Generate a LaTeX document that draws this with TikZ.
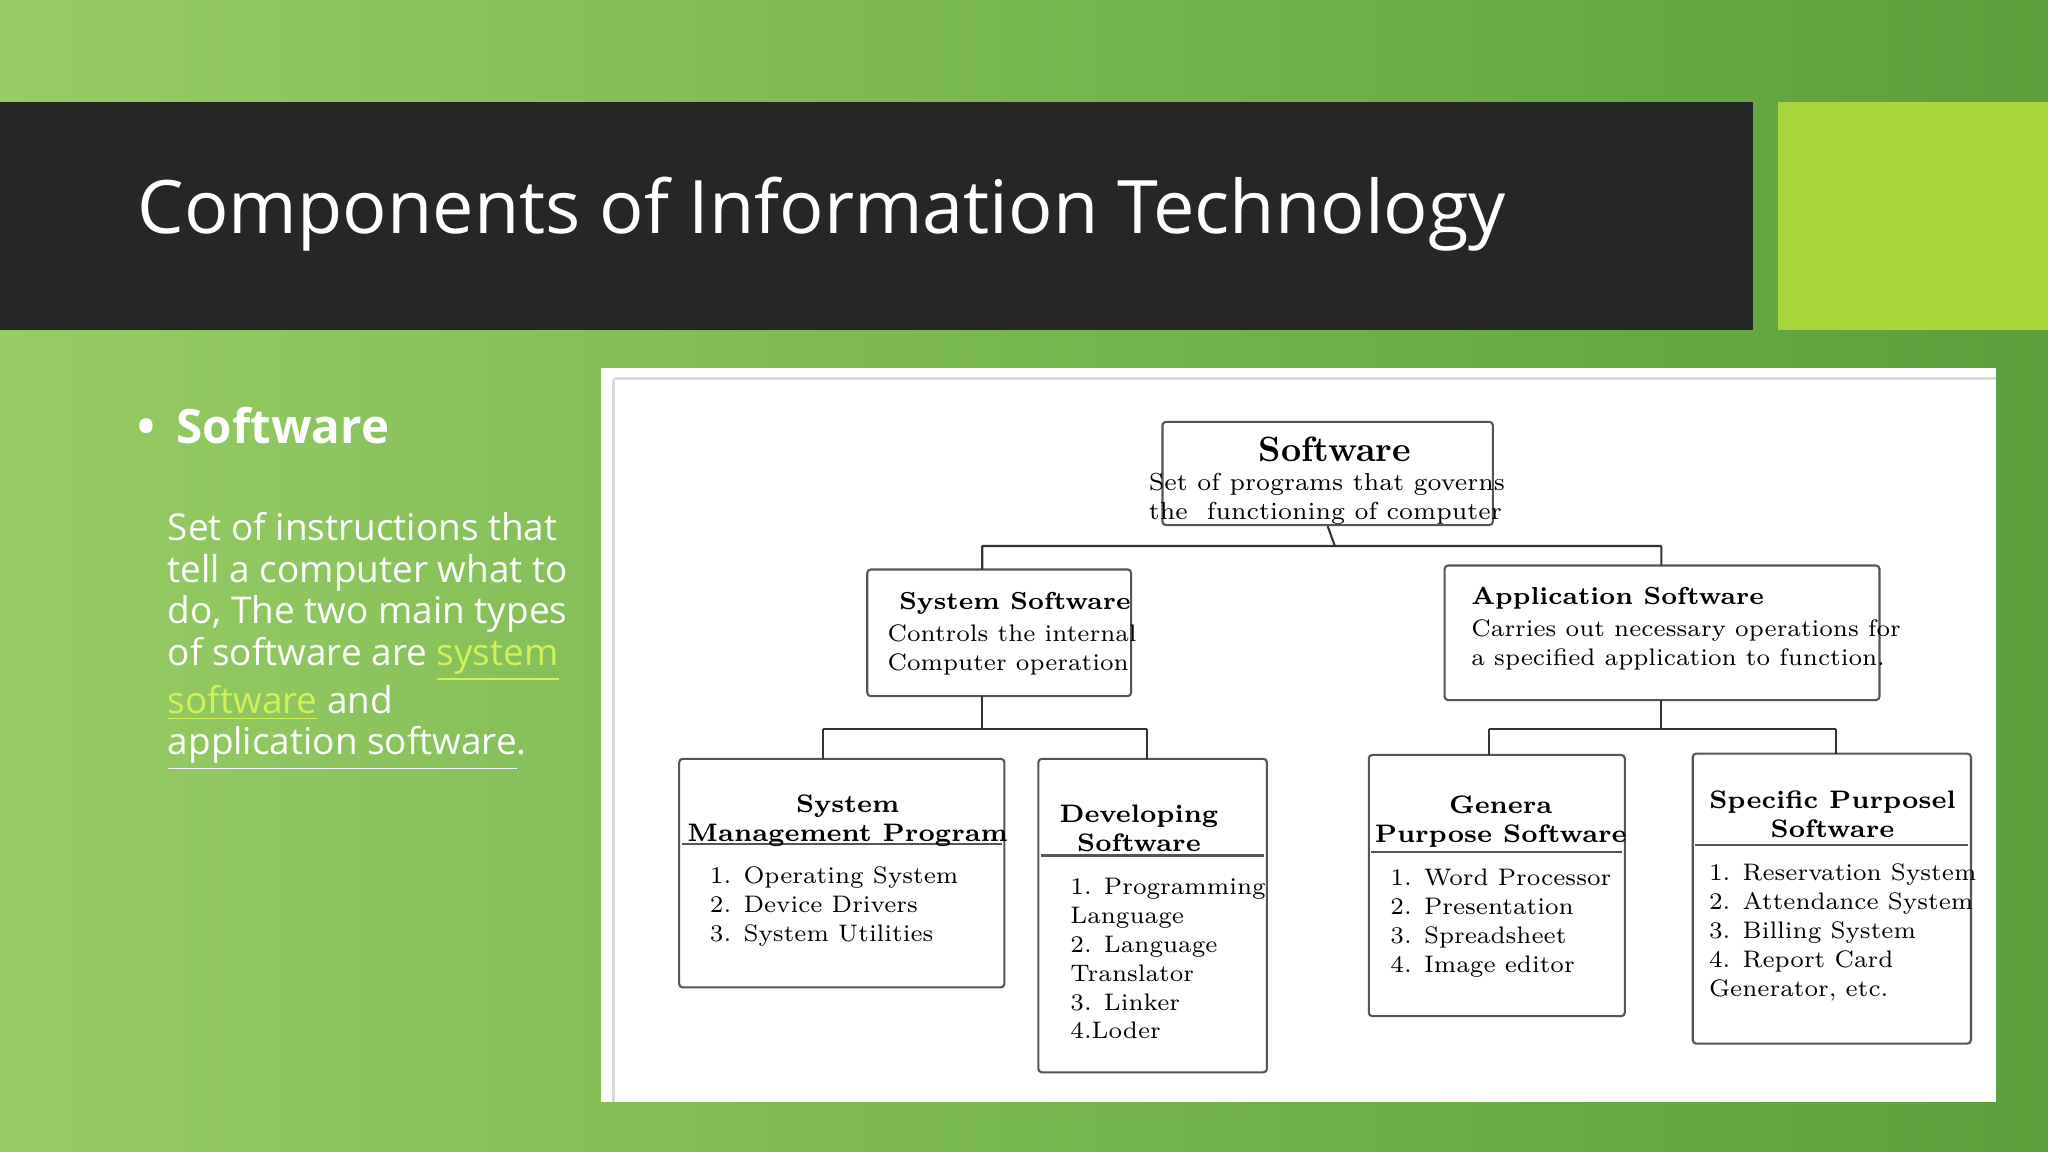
\documentclass[tikz,border=0pt]{standalone}
\usepackage{fontspec}
\setsansfont{Open Sans}
\usetikzlibrary{fit}
\definecolor{bar}{HTML}{262626}
\definecolor{lime}{HTML}{A6D63A}
\definecolor{link}{HTML}{CFF25A}
\definecolor{edge}{HTML}{555555}
\tikzset{
 box/.style={draw=edge,line width=0.6pt,rounded corners=1pt,inner sep=0pt},
 conn/.style={draw=black!80,line width=0.6pt},
 ttl/.style={font=\bfseries\fontsize{7.2}{8.2}\selectfont,align=center,anchor=north},
 txt/.style={font=\fontsize{6.8}{8.2}\selectfont,align=left,anchor=north west,inner sep=0pt},
}
\begin{document}
\begin{tikzpicture}[x=0.013061cm,y=-0.013061cm]
\useasboundingbox (0,0) rectangle (1568,882);
\shade[left color={rgb,255:red,150;green,204;blue,100},right color={rgb,255:red,90;green,160;blue,60}] (0,0) rectangle (1568,882);
\fill[bar] (0,78) rectangle (1342,253);
\fill[lime] (1361,78) rectangle (1568,253);
\node[anchor=west,text=white,font=\sffamily\fontsize{21}{24}\selectfont] (title) at (96,164) {Components of Information Technology};
\node[anchor=west,text=white,font=\sffamily\bfseries\fontsize{13.5}{16}\selectfont] (bul) at (96,326) {•\hspace{6pt}Software};
\node[anchor=north west,text=white,align=left,inner sep=0pt,font=\sffamily\fontsize{10.5}{11.8}\selectfont] (body) at (128,392) {Set of instructions that\\tell a computer what to\\do, The two main types\\of software are \textcolor{link}{\underline{system}}\\\textcolor{link}{\underline{software}} and\\\underline{application software}.};
% panel
\fill[white] (460,282) rectangle (1528,844);
\draw[black!15,line width=0.8pt] (470,290) -- (1528,290) (470,290) -- (470,844);
% boxes
\node[box,fit={(890,323)(1143,402)}] (soft) {};
\node[box,fit={(664,436)(866,533)}] (sys) {};
\node[box,fit={(1106,433)(1439,536)}] (app) {};
\node[box,fit={(520,581)(769,756)}] (smp) {};
\node[box,fit={(795,581)(970,821)}] (dev) {};
\node[box,fit={(1048,578)(1244,778)}] (gen) {};
\node[box,fit={(1296,577)(1509,799)}] (spec) {};
\draw[edge,line width=0.6pt] (522,646) -- (767,646) (797,655) -- (968,655) (1050,652) -- (1242,652) (1298,647) -- (1507,647);
% connectors
\coordinate (b1) at (1022,418);
\coordinate (s1) at (752,418);\coordinate (a1) at (1272,418);
\draw[conn] (soft.south) -- (b1) (s1) -- (a1) (s1) -- (752,436) (a1) -- (1272,433);
\draw[conn] (752,533) -- (752,558) (630,558) -- (878,558) (630,558) -- (630,581) (878,558) -- (878,581);
\draw[conn] (1272,536) -- (1272,558) (1140,558) -- (1406,558) (1140,558) -- (1140,578) (1406,558) -- (1406,577);
% texts
\node[anchor=north,font=\bfseries\fontsize{10}{11}\selectfont] (t0) at (1022,325) {Software};
\node[anchor=north,align=left,font=\fontsize{7}{8.2}\selectfont] (d0) at (1016,353) {Set of programs that governs\\the\ \ functioning of computer};
\node[anchor=north west,inner sep=0pt,font=\bfseries\fontsize{7}{8}\selectfont] (t1) at (688,453) {System Software};
\node[txt] (d1) at (679,478) {Controls the internal\\Computer operation};
\node[anchor=north west,inner sep=0pt,font=\bfseries\fontsize{7}{8}\selectfont] (t2) at (1126,449) {Application Software};
\node[txt] (d2) at (1126,474) {Carries out necessary operations for\\a specified application to function.};
\node[ttl] (t3) at (649,599) {System\\Management Program};
\node[txt] (d3) at (543,663) {1. Operating System\\2. Device Drivers\\3. System Utilities};
\node[ttl] (t4) at (872,607) {Developing\\Software};
\node[txt] (d4) at (819,672) {1. Programming\\Language\\2. Language\\Translator\\3. Linker\\4.Loder};
\node[ttl] (t5) at (1149,600) {Genera\\Purpose Software};
\node[txt] (d5) at (1064,665) {1. Word Processor\\2. Presentation\\3. Spreadsheet\\4. Image editor};
\node[ttl] (t6) at (1403,596) {Specific Purposel\\Software};
\node[txt] (d6) at (1308,661) {1. Reservation System\\2. Attendance System\\3. Billing System\\4. Report Card\\Generator, etc.};
\end{tikzpicture}
\end{document}
